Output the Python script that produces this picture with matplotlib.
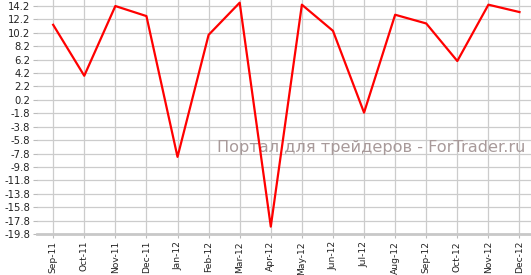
import matplotlib.pyplot as plt

# Data
months = ["Sep-11", "Oct-11", "Nov-11", "Dec-11", "Jan-12", "Feb-12", "Mar-12", "Apr-12",
          "May-12", "Jun-12", "Jul-12", "Aug-12", "Sep-12", "Oct-12", "Nov-12", "Dec-12"]
values = [11.4, 3.8, 14.2, 12.7, -8.3, 9.9, 14.7, -18.7,
          14.4, 10.5, -1.7, 12.9, 11.6, 6.0, 14.4, 13.3]
yticks = [-19.8 + 2 * i for i in range(18)]

fig = plt.figure(figsize=(5.31, 2.75), dpi=100)
ax = fig.add_axes([37 / 531, 41 / 275, 1 - 37 / 531, 1 - 41 / 275])

x = list(range(len(months)))
ax.plot(x, values, color="#ff0000", linewidth=1.6, zorder=3)

ax.set_xlim(-0.52, 15.37)
ax.set_ylim(-19.8, 15.1)
ax.set_xticks(x)
ax.set_xticklabels(months, rotation=90, fontsize=6.6)
ax.set_yticks(yticks)
ax.set_yticklabels([f"{v:.1f}" for v in yticks], fontsize=7.2)

ax.grid(True, color="#cccccc", linewidth=0.9)
ax.set_axisbelow(True)
for side in ["top", "right", "left"]:
    ax.spines[side].set_visible(False)
ax.spines["bottom"].set_color("#c8c8c8")
ax.spines["bottom"].set_linewidth(2)
ax.tick_params(axis="both", colors="#bbbbbb", labelcolor="#222222", length=3, width=0.8, pad=2)

# watermark sits under the line
ax.text(0.988, 0.37, "Портал для трейдеров - ForTrader.ru", transform=ax.transAxes,
        ha="right", va="center", fontsize=11.6, color="#a89a9a", zorder=2)

fig.savefig("out.png", dpi=100)
